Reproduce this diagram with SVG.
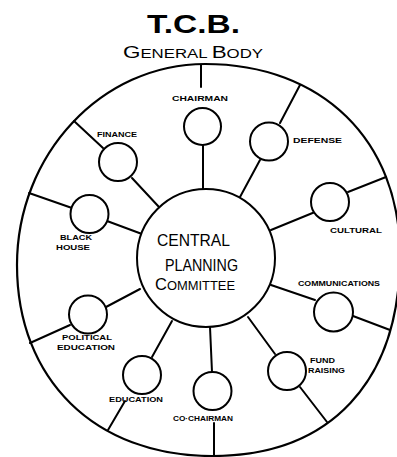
<svg xmlns="http://www.w3.org/2000/svg" width="397" height="457" viewBox="0 0 397 457">
<style>
.ln{stroke:#000;stroke-width:2;fill:none;stroke-linecap:round}
.nd{stroke:#000;stroke-width:2;fill:#fff}
.lb{font-family:"Liberation Sans",Arial,sans-serif;font-weight:bold;font-size:8px;fill:#000}
.big{font-family:"Liberation Sans",Arial,sans-serif;fill:#000}
</style>
<rect width="397" height="457" fill="#fff"/>
<g id="general-body">
<path fill="none" stroke="#000" stroke-width="2.2" d="M205,64 C322,64 400,140.4 400,255 C400,381.6 330.4,456 212,456 C95,456 17,379.6 17,265 C17,154.5 101.6,64 205,64 Z"/>
<text class="big" x="147" y="33" font-size="25" font-weight="bold" textLength="93" lengthAdjust="spacingAndGlyphs">T.C.B.</text>
<text class="big" x="123" y="58" textLength="140" lengthAdjust="spacingAndGlyphs"><tspan font-size="16">G</tspan><tspan font-size="12">ENERAL </tspan><tspan font-size="16">B</tspan><tspan font-size="12">ODY</tspan></text>
</g>
<g id="connectors">
<line class="ln" x1="201" y1="65" x2="201" y2="87"/>
<line class="ln" x1="203" y1="145" x2="203" y2="189"/>
<line class="ln" x1="280" y1="123" x2="300" y2="85"/>
<line class="ln" x1="260" y1="160" x2="240" y2="197"/>
<line class="ln" x1="74" y1="121" x2="103" y2="148"/>
<line class="ln" x1="132" y1="178" x2="159" y2="207"/>
<line class="ln" x1="29" y1="193" x2="72" y2="208"/>
<line class="ln" x1="107" y1="221" x2="142" y2="234"/>
<line class="ln" x1="30" y1="343" x2="70" y2="325"/>
<line class="ln" x1="106" y1="307" x2="140" y2="289"/>
<line class="ln" x1="348" y1="192" x2="386" y2="177"/>
<line class="ln" x1="315" y1="212" x2="271" y2="230"/>
<line class="ln" x1="353" y1="316" x2="390" y2="330"/>
<line class="ln" x1="315" y1="300" x2="271" y2="285"/>
<line class="ln" x1="300" y1="387" x2="327" y2="422"/>
<line class="ln" x1="248" y1="317" x2="275" y2="354"/>
<line class="ln" x1="152" y1="357" x2="172" y2="321"/>
<line class="ln" x1="125" y1="401" x2="108" y2="430"/>
<line class="ln" x1="210" y1="327" x2="212" y2="372"/>
<line class="ln" x1="214" y1="423" x2="214" y2="455"/>
</g>
<g id="central-planning-committee">
<circle class="nd" cx="206" cy="258" r="69"/>
<text class="big" x="157" y="246" font-size="16" textLength="73" lengthAdjust="spacingAndGlyphs">CENTRAL</text>
<text class="big" x="165" y="271" font-size="16" textLength="73" lengthAdjust="spacingAndGlyphs">PLANNING</text>
<text class="big" x="155" y="290" textLength="80" lengthAdjust="spacingAndGlyphs"><tspan font-size="16">C</tspan><tspan font-size="12.5">OMMITTEE</tspan></text>
</g>
<g id="chairman">
<circle class="nd" cx="202.5" cy="126.5" r="18.5"/>
<text class="lb" x="172" y="101" textLength="56" lengthAdjust="spacingAndGlyphs">CHAIRMAN</text>
</g>
<g id="defense">
<circle class="nd" cx="269" cy="141.5" r="19"/>
<text class="lb" x="293" y="143" textLength="49" lengthAdjust="spacingAndGlyphs">DEFENSE</text>
</g>
<g id="finance">
<circle class="nd" cx="118" cy="162" r="19"/>
<text class="lb" x="97" y="137" textLength="40" lengthAdjust="spacingAndGlyphs">FINANCE</text>
</g>
<g id="black-house">
<circle class="nd" cx="89.5" cy="214" r="19"/>
<text class="lb" x="60" y="240" textLength="32" lengthAdjust="spacingAndGlyphs">BLACK</text>
<text class="lb" x="56" y="250" textLength="34" lengthAdjust="spacingAndGlyphs">HOUSE</text>
</g>
<g id="political-education">
<circle class="nd" cx="88" cy="314.5" r="19"/>
<text class="lb" x="62" y="340" textLength="50" lengthAdjust="spacingAndGlyphs">POLITICAL</text>
<text class="lb" x="57" y="350" textLength="58" lengthAdjust="spacingAndGlyphs">EDUCATION</text>
</g>
<g id="cultural">
<circle class="nd" cx="330" cy="202" r="19"/>
<text class="lb" x="330" y="233" textLength="52" lengthAdjust="spacingAndGlyphs">CULTURAL</text>
</g>
<g id="communications">
<circle class="nd" cx="333.5" cy="312" r="19.5"/>
<text class="lb" x="298" y="286" textLength="82" lengthAdjust="spacingAndGlyphs">COMMUNICATIONS</text>
</g>
<g id="fund-raising">
<circle class="nd" cx="287" cy="371" r="19"/>
<text class="lb" x="310" y="363" textLength="25" lengthAdjust="spacingAndGlyphs">FUND</text>
<text class="lb" x="308" y="373" textLength="37" lengthAdjust="spacingAndGlyphs">RAISING</text>
</g>
<g id="education">
<circle class="nd" cx="142" cy="375" r="19"/>
<text class="lb" x="109" y="402" textLength="54" lengthAdjust="spacingAndGlyphs">EDUCATION</text>
</g>
<g id="co-chairman">
<circle class="nd" cx="212.5" cy="391" r="19"/>
<text class="lb" x="173" y="421" textLength="60" lengthAdjust="spacingAndGlyphs">CO·CHAIRMAN</text>
</g>
</svg>
